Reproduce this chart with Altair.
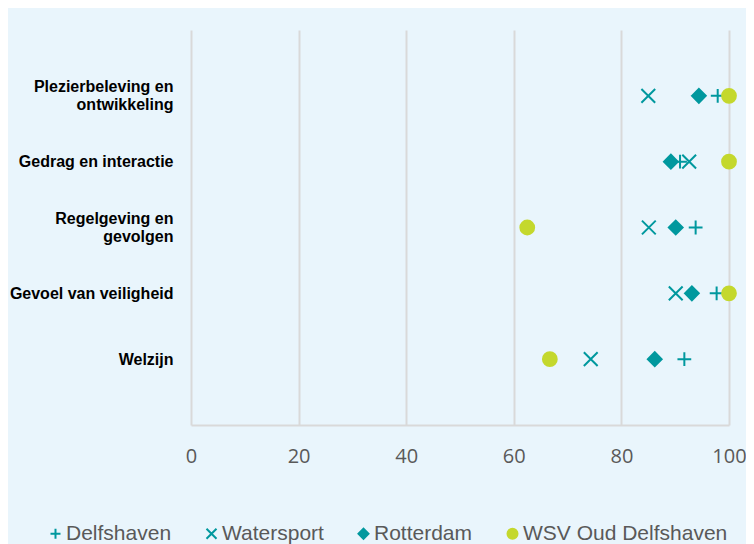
import altair as alt
import pandas as pd

categories = [
    "Plezierbeleving en|ontwikkeling",
    "Gedrag en interactie",
    "Regelgeving en|gevolgen",
    "Gevoel van veiligheid",
    "Welzijn",
]
series = ["Delfshaven", "Watersport", "Rotterdam", "WSV Oud Delfshaven"]
delfshaven = [97.9, 90.9, 93.8, 97.7, 91.7]
watersport = [85.0, 92.6, 85.1, 90.1, 74.3]
rotterdam = [94.4, 89.2, 90.1, 93.1, 86.2]
wsv_oud_delfshaven = [100, 100, 62.5, 100, 66.7]
x_ticks = [0, 20, 40, 60, 80, 100]

TEAL = "#00989e"
LIME = "#c4d82d"
PLUS = "M-1,0L1,0M0,-1L0,1"
CROSS = "M-1,-1L1,1M-1,1L1,-1"

rows = []
for name, vals in zip(series, [delfshaven, watersport, rotterdam, wsv_oud_delfshaven]):
    for cat, v in zip(categories, vals):
        rows.append({"category": cat, "series": name, "value": v})
df = pd.DataFrame(rows)

legend = alt.Legend(
    title=None,
    orient="none",
    legendX=-146,
    legendY=493,
    direction="horizontal",
    columns=4,
    labelFont="Liberation Sans",
    labelFontSize=21,
    labelColor="#595959",
    labelLimit=0,
    labelOffset=0,
    columnPadding=29,
    symbolSize=100,
    symbolStrokeWidth=2,
)

chart = (
    alt.Chart(df)
    .mark_point(size=190, strokeWidth=2, opacity=1, fillOpacity=1)
    .encode(
        x=alt.X(
            "value:Q",
            scale=alt.Scale(domain=[0, 100], nice=False),
            axis=alt.Axis(
                values=x_ticks,
                grid=True,
                gridColor="#d9d9d9",
                gridWidth=2,
                ticks=False,
                domainColor="#d9d9d9",
                domainWidth=2,
                labelFont="Open Sans",
                labelFontSize=20,
                labelColor="#595959",
                labelPadding=21,
                labelFlush=False,
                labelOverlap=False,
                title=None,
            ),
        ),
        y=alt.Y(
            "category:N",
            sort=categories,
            scale=alt.Scale(padding=1),
            axis=alt.Axis(
                labelExpr="split(datum.value, '|')",
                labelFont="Liberation Sans",
                labelFontSize=16,
                labelFontWeight="bold",
                labelColor="#000000",
                labelLineHeight=18,
                labelPadding=18,
                labelLimit=0,
                labelOffset={"condition": {"test": "indexof(datum.value, '|') >= 0", "value": -9}, "value": 0},
                ticks=False,
                domain=False,
                grid=False,
                title=None,
            ),
        ),
        shape=alt.Shape(
            "series:N",
            sort=series,
            scale=alt.Scale(domain=series, range=[PLUS, CROSS, "diamond", "circle"]),
            legend=legend,
        ),
        fill=alt.Fill(
            "series:N",
            sort=series,
            scale=alt.Scale(domain=series, range=["transparent", "transparent", TEAL, LIME]),
            legend=legend,
        ),
        stroke=alt.Stroke(
            "series:N",
            sort=series,
            scale=alt.Scale(domain=series, range=[TEAL, TEAL, TEAL, LIME]),
            legend=legend,
        ),
        order=alt.Order("order:Q"),
    )
    .transform_calculate(order="indexof(['Delfshaven','Watersport','Rotterdam','WSV Oud Delfshaven'], datum.series)")
    .properties(
        width=538,
        height=395,
        autosize=alt.AutoSizeParams(type="none"),
        padding={"left": 183, "top": 22, "right": 17, "bottom": 120},
        background="#e9f5fc",
    )
    .configure_view(stroke=None)
)

chart.save("out.html", embed_options={"renderer": "svg", "actions": False})
